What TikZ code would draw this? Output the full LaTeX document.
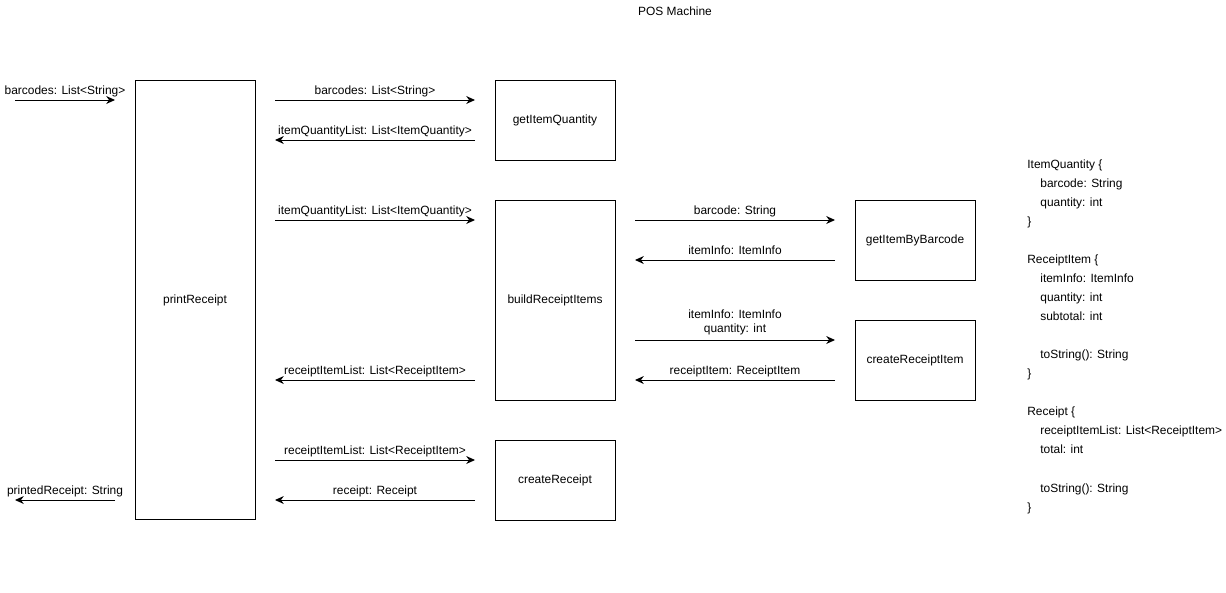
\documentclass[tikz,border=0pt]{standalone}
\usepackage{fontspec}
\setmainfont{Liberation Sans}
\usetikzlibrary{arrows.meta, positioning}
\tikzset{func/.style={draw,line width=0.55pt,minimum width=2.4cm,minimum height=1.6cm,font=\fontsize{6.8}{8}\selectfont}}
\tikzset{msg/.style={draw,line width=0.55pt,-{Stealth[length=5pt,width=4.5pt]}}}
\tikzset{lbl/.style={anchor=base,yshift=3.2pt,inner sep=0pt,font=\fontsize{6.8}{8}\selectfont}}
\newcommand{\ind}{\hspace*{0.26cm}}

\begin{document}
\begin{tikzpicture}[x=0.02cm,y=-0.02cm]
\useasboundingbox (0,0) rectangle (1226,592);

% Title
\node[lbl] (title) at (675,21) {POS Machine};

% Define function boxes
\node[func,minimum height=8.8cm] (printReceipt) at (195,300) {printReceipt};
\node[func] (getItemQuantity) at (555,120) {getItemQuantity};
\node[func,minimum height=4cm] (buildReceiptItems) at (555,300) {buildReceiptItems};
\node[func] (createReceipt) at (555,480) {createReceipt};
\node[func] (getItemByBarcode) at (915,240) {getItemByBarcode};
\node[func] (createReceiptItem) at (915,360) {createReceiptItem};

% Define arrow ends
\coordinate (in0) at (15,100);   \coordinate (in1) at (115,100);
\coordinate (out0) at (115,500); \coordinate (out1) at (15,500);
\coordinate (a0) at (275,100);   \coordinate (a1) at (475,100);
\coordinate (b0) at (475,140);   \coordinate (b1) at (275,140);
\coordinate (c0) at (275,220);   \coordinate (c1) at (475,220);
\coordinate (d0) at (475,380);   \coordinate (d1) at (275,380);
\coordinate (e0) at (275,460);   \coordinate (e1) at (475,460);
\coordinate (f0) at (475,500);   \coordinate (f1) at (275,500);
\coordinate (g0) at (635,220);   \coordinate (g1) at (835,220);
\coordinate (h0) at (835,260);   \coordinate (h1) at (635,260);
\coordinate (i0) at (635,340);   \coordinate (i1) at (835,340);
\coordinate (j0) at (835,380);   \coordinate (j1) at (635,380);

% Define paths
\path[msg] (in0) -- node[lbl] {barcodes: List<String>} (in1);
\path[msg] (out0) -- node[lbl] {printedReceipt: String} (out1);

\path[msg] (a0) -- node[lbl] {barcodes: List<String>} (a1);
\path[msg] (b0) -- node[lbl] {itemQuantityList: List<ItemQuantity>} (b1);
\path[msg] (c0) -- node[lbl] {itemQuantityList: List<ItemQuantity>} (c1);
\path[msg] (d0) -- node[lbl] {receiptItemList: List<ReceiptItem>} (d1);
\path[msg] (e0) -- node[lbl] {receiptItemList: List<ReceiptItem>} (e1);
\path[msg] (f0) -- node[lbl] {receipt: Receipt} (f1);

\path[msg] (g0) -- node[lbl] {barcode: String} (g1);
\path[msg] (h0) -- node[lbl] {itemInfo: ItemInfo} (h1);
\path[msg] (i0) -- node[lbl,yshift=1.3pt,align=center] {itemInfo: ItemInfo\\quantity: int} (i1);
\path[msg] (j0) -- node[lbl] {receiptItem: ReceiptItem} (j1);

% Add the data types
\node[anchor=north west,inner sep=0pt,align=left,font=\fontsize{6.8}{10.85}\selectfont] (types) at (1027,159) {%
ItemQuantity \{\\
\ind barcode: String\\
\ind quantity: int\\
\}\\[10.85pt]
ReceiptItem \{\\
\ind itemInfo: ItemInfo\\
\ind quantity: int\\
\ind subtotal: int\\[10.85pt]
\ind toString(): String\\
\}\\[10.85pt]
Receipt \{\\
\ind receiptItemList: List<ReceiptItem>\\
\ind total: int\\[10.85pt]
\ind toString(): String\\
\}};
\end{tikzpicture}
\end{document}
